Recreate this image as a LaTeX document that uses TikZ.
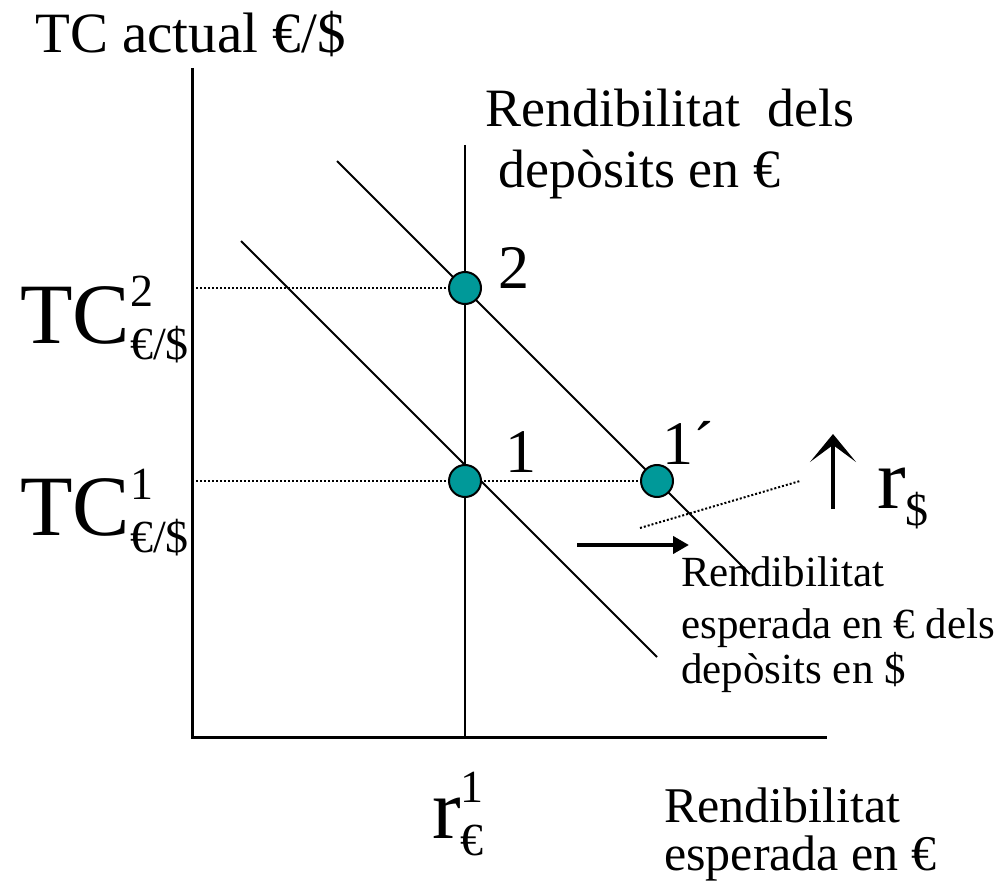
\documentclass[tikz,border=0pt]{standalone}
\usepackage{fontspec}
\setmainfont{Liberation Serif}
\usetikzlibrary{arrows.meta}
\definecolor{teal1}{RGB}{0,153,153}
\tikzset{
  axisline/.style={line width=3pt},
  curve/.style={line width=2pt},
  dotline/.style={line width=2pt, dash pattern=on 2pt off 2pt},
  eqpoint/.style={circle, draw=black, line width=2pt, fill=teal1, minimum size=32pt, inner sep=0pt},
  lbl/.style={anchor=base west, inner sep=0pt, font=\fontsize{54}{54}\selectfont},
  smalllbl/.style={anchor=base west, inner sep=0pt, font=\fontsize{43}{43}\selectfont},
  numlbl/.style={anchor=base west, inner sep=0pt, font=\fontsize{62}{62}\selectfont},
  biglbl/.style={anchor=base west, inner sep=0pt, font=\fontsize{86}{86}\selectfont},
}
\newcommand{\supsub}[2]{\rlap{\raisebox{36pt}{\fontsize{46}{46}\selectfont #1}}\raisebox{-17pt}{\fontsize{46}{46}\selectfont #2}}
\begin{document}
\begin{tikzpicture}[x=1pt,y=-1pt]
\useasboundingbox (0,0) rectangle (996,885);
% axes
\coordinate (O) at (192,737);
\coordinate (ytop) at (192,68);
\coordinate (xend) at (827,737);
\draw[axisline] (ytop) -- (O) -- (xend);
% vertical euro return
\coordinate (vtop) at (465,145);
\coordinate (vbot) at (465,737);
\draw[line width=2.5pt] (vtop) -- (vbot);
% downward sloping curves
\coordinate (aS) at (241,241);
\coordinate (aE) at (657,657);
\coordinate (bS) at (337,161);
\coordinate (bE) at (750,574);
\draw[curve] (aS) -- (aE);
\draw[curve] (bS) -- (bE);
% dotted guides
\coordinate (y2) at (192,288);
\coordinate (y1) at (192,481);
\coordinate (dS) at (640,528);
\coordinate (dE) at (800,481);
\draw[dotline] (y2) -- (465,288);
\draw[dotline] (y1) -- (657,481);
\draw[dotline] (dS) -- (dE);
% points
\node[eqpoint] (p2) at (465,288) {};
\node[eqpoint] (p1) at (465,481) {};
\node[eqpoint] (p1b) at (657,481) {};
% arrows
\coordinate (rS) at (577,545);
\coordinate (rE) at (689,545);
\draw[line width=4pt, -{Triangle[length=16pt,width=17pt]}] (rS) -- (rE);
\coordinate (uS) at (833,509);
\coordinate (uE) at (833,434);
\draw[line width=4.5pt, -{Stealth[length=28pt,width=46pt,inset=17pt]}] (uS) -- (uE);
% texts
\node[lbl, font=\fontsize{57}{57}\selectfont] (title) at (35,53) {TC actual €/\$};
\node[lbl] (rd1) at (485,127) {Rendibilitat\ \ dels};
\node[lbl] (rd2) at (498,188) {depòsits en €};
\node[numlbl] (n2) at (498,289) {2};
\node[numlbl] (n1) at (505,472) {1};
\node[numlbl] (n1b) at (662,464) {1´};
\node[biglbl] (tc2) at (20,343) {TC\supsub{2}{€/\$}};
\node[biglbl] (tc1) at (20,535) {TC\supsub{1}{€/\$}};
\node[biglbl] (rd) at (877,508) {r\raisebox{-17pt}{\fontsize{46}{46}\selectfont \$}};
\node[biglbl] (re) at (432,838) {r\supsub{1}{€}};
\node[smalllbl] (m1) at (681,586) {Rendibilitat};
\node[smalllbl] (m2) at (681,638) {esperada en € dels};
\node[smalllbl] (m3) at (681,683) {depòsits en \$};
\node[smalllbl, font=\fontsize{50}{50}\selectfont] (b1) at (664,822) {Rendibilitat};
\node[smalllbl, font=\fontsize{50}{50}\selectfont] (b2) at (664,870) {esperada en €};
\end{tikzpicture}
\end{document}
